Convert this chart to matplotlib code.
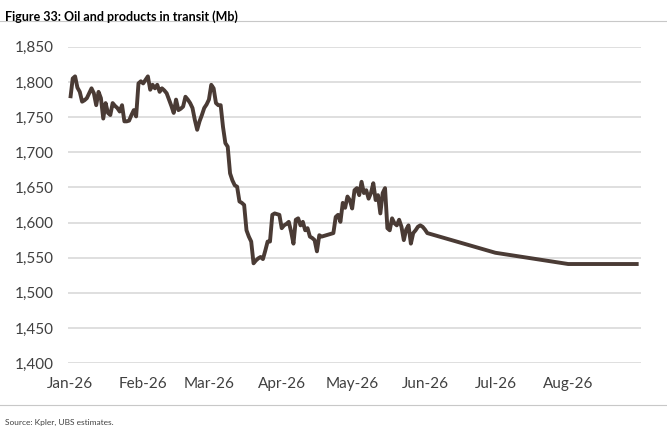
import matplotlib
matplotlib.use("Agg")
import matplotlib.pyplot as plt
import matplotlib.dates as mdates
import pandas as pd

# --------------------------  Data  -------------------------------------------

# daily observed values (Mb), starting 1 Jan 2026
obs_start = "2026-01-01"
obs_values = [
    1777, 1805, 1808, 1792, 1786, 1772, 1774, 1777, 1784, 1791,
    1784, 1767, 1786, 1777, 1748, 1770, 1756, 1753, 1770, 1766,
    1763, 1758, 1767, 1744, 1744, 1745, 1753, 1760, 1751, 1798,
    1801, 1798, 1803, 1808, 1789, 1796, 1791, 1796, 1786, 1791,
    1788, 1784, 1775, 1766, 1756, 1775, 1760, 1762, 1765, 1779,
    1775, 1770, 1763, 1746, 1732, 1744, 1753, 1763, 1768, 1775,
    1796, 1791, 1770, 1767, 1767, 1736, 1713, 1708, 1670, 1660,
    1653, 1651, 1630, 1628, 1625, 1589, 1580, 1573, 1542, 1546,
    1549, 1551, 1548, 1560, 1573, 1573, 1611, 1613, 1612, 1611,
    1592, 1596, 1598, 1601, 1587, 1570, 1604, 1606, 1596, 1601,
    1589, 1592, 1580, 1578, 1575, 1559, 1582, 1580, 1581, 1582,
    1583, 1584, 1585, 1608, 1611, 1601, 1628, 1621, 1637, 1632,
    1620, 1646, 1649, 1639, 1658, 1642, 1646, 1634, 1642, 1656,
    1632, 1639, 1613, 1642, 1649, 1592, 1589, 1606, 1599, 1596,
    1604, 1594, 1575, 1590, 1596, 1570, 1585, 1589, 1594, 1596,
    1594, 1590,
]

# estimate path after the observed data
proj_dates = ["2026-06-01", "2026-06-02", "2026-07-01", "2026-08-01", "2026-08-31"]
proj_values = [1590, 1585, 1557, 1541, 1541]

month_ticks = ["2026-01-01", "2026-02-01", "2026-03-01", "2026-04-01",
               "2026-05-01", "2026-06-01", "2026-07-01", "2026-08-01"]
y_ticks = list(range(1400, 1851, 50))
title = "Figure 33: Oil and products in transit (Mb)"
source = "Source: Kpler, UBS estimates."

# --------------------------  Plot  -------------------------------------------

obs_dates = pd.date_range(obs_start, periods=len(obs_values), freq="D")
dates = list(obs_dates) + list(pd.to_datetime(proj_dates))
values = obs_values + proj_values

plt.rcParams["font.family"] = ["Lato", "DejaVu Sans"]

fig = plt.figure(figsize=(6.67, 4.38), dpi=100)
ax = fig.add_axes([0.102, 0.171, 0.859, 0.722])

ax.plot(dates, values, color="#4a3b35", linewidth=2.8, solid_joinstyle="round",
        solid_capstyle="butt", zorder=3)

ax.set_ylim(1400, 1850)
ax.set_yticks(y_ticks)
ax.set_yticklabels([f"{v:,}" for v in y_ticks])
ax.set_xlim(pd.Timestamp("2025-12-31"), pd.Timestamp("2026-09-01"))
ax.set_xticks(pd.to_datetime(month_ticks))
ax.xaxis.set_major_formatter(mdates.DateFormatter("%b-%y"))

ax.grid(axis="y", color="#d9d9d9", linewidth=1.2)
ax.set_axisbelow(True)
for s in ax.spines.values():
    s.set_visible(False)
ax.tick_params(length=0, labelsize=11, labelcolor="#404040")
ax.tick_params(axis="x", pad=10)
ax.tick_params(axis="y", pad=10)

fig.text(0.008, 0.977, title, fontsize=9, fontweight="bold", va="top", ha="left",
         color="#000000")
fig.add_artist(plt.Line2D([0, 1], [0.952, 0.952], color="#c8c8c8", linewidth=0.8))
fig.add_artist(plt.Line2D([0, 1], [0.075, 0.075], color="#c8c8c8", linewidth=0.8))
fig.text(0.008, 0.036, source, fontsize=6, va="center", ha="left", color="#404040")

fig.savefig("out.png", dpi=100)
